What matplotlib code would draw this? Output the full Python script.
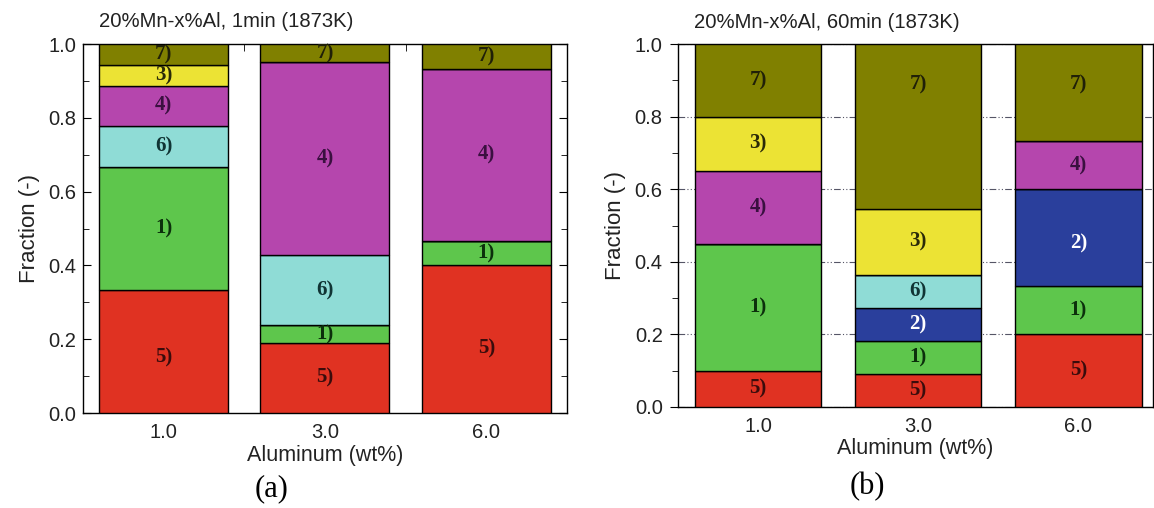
import matplotlib.pyplot as plt
import numpy as np

# phase fractions, stacked bottom -> top in this order
phases = ['5)', '1)', '2)', '6)', '4)', '3)', '7)']
colors = ['#e03222', '#5ec64c', '#2a3f9c', '#8fdcd6', '#b546ad', '#ece334', '#808000']
text_colors = ['#3a0c0c', '#0c300c', '#ffffff', '#103434', '#3a1040', '#2a2a08', '#202008']

aluminum = ['1.0', '3.0', '6.0']

# 1 min
frac_1min = {
    '5)': [0.333, 0.190, 0.400],
    '1)': [0.333, 0.048, 0.067],
    '2)': [0.0, 0.0, 0.0],
    '6)': [0.111, 0.190, 0.0],
    '4)': [0.111, 0.524, 0.467],
    '3)': [0.056, 0.0, 0.0],
    '7)': [0.056, 0.048, 0.067],
}

# 60 min
frac_60min = {
    '5)': [0.100, 0.091, 0.200],
    '1)': [0.350, 0.091, 0.133],
    '2)': [0.0, 0.091, 0.267],
    '6)': [0.0, 0.091, 0.0],
    '4)': [0.200, 0.0, 0.133],
    '3)': [0.150, 0.182, 0.0],
    '7)': [0.200, 0.454, 0.267],
}

plt.rcParams['font.family'] = ['Liberation Sans', 'DejaVu Sans']

fig = plt.figure(figsize=(11.54, 5.08), dpi=100)
ax1 = fig.add_axes([0.0719, 0.187, 0.4194, 0.726])
ax2 = fig.add_axes([0.5875, 0.199, 0.4116, 0.714])


def draw(ax, data, title, width, xmax, tickdir, grid, label_y=None):
    label_y = label_y or {}
    x = np.arange(len(aluminum))
    bottom = np.zeros(len(aluminum))
    for ph, c, tc in zip(phases, colors, text_colors):
        vals = np.array(data[ph])
        ax.bar(x, vals, width, bottom=bottom, color=c, edgecolor='black',
               linewidth=1.0, zorder=3)
        for i, (xi, b, v) in enumerate(zip(x, bottom, vals)):
            if v > 0:
                y = label_y.get((i, ph), b + v / 2)
                ax.text(xi, y, ph, ha='center', va='center',
                        fontsize=15, fontweight='bold', color=tc,
                        family='Liberation Serif', zorder=4)
        bottom += vals
    ax.set_xlim(-0.5, xmax)
    ax.set_ylim(0, 1.0)
    ax.set_xticks(x)
    ax.set_xticklabels(aluminum)
    ax.set_yticks(np.arange(0, 1.01, 0.2))
    ax.set_yticklabels(['%.1f' % v for v in np.arange(0, 1.01, 0.2)])
    ax.set_yticks(np.arange(0.1, 1.0, 0.2), minor=True)
    ax.tick_params(axis='x', length=0, labelsize=14.5, colors='#222222', pad=7)
    ax.tick_params(axis='y', which='major', direction=tickdir, length=6,
                   right=True, labelsize=14.5, labelcolor='#222222', pad=5)
    ax.tick_params(axis='y', which='minor', direction=tickdir, length=4, right=True)
    if grid:
        ax.yaxis.grid(True, linestyle=(0, (6, 2, 1, 2, 1, 2)), color='#555566',
                      linewidth=0.8, zorder=0)
    for s in ax.spines.values():
        s.set_linewidth(1.0)
    ax.set_xlabel('Aluminum (wt%)', fontsize=15.5, color='#222222', labelpad=2)
    ax.set_ylabel('Fraction (-)', fontsize=16, color='#222222', labelpad=6)
    ax.text(0.033, 1.035, title, transform=ax.transAxes, fontsize=14.6,
            color='#222222', ha='left', va='bottom')


draw(ax1, frac_1min, '20%Mn-x%Al, 1min (1873K)', 0.8, 2.5, 'in', False,
     label_y={(2, '5)'): 0.175, (0, '5)'): 0.15})
ax1.set_xticks([0.5, 1.5], minor=True)
ax1.tick_params(axis='x', which='minor', direction='in', length=5, top=True,
                bottom=False)
draw(ax2, frac_60min, '20%Mn-x%Al, 60min (1873K)', 0.79, 2.466, 'out', True,
     label_y={(1, '7)'): 0.89, (2, '7)'): 0.89, (2, '2)'): 0.45})

fig.text(0.235, 0.038, '(a)', fontsize=22, family='Liberation Serif',
         ha='center', va='center')
fig.text(0.752, 0.042, '(b)', fontsize=22, family='Liberation Serif',
         ha='center', va='center')

fig.savefig('out.png', dpi=100)
